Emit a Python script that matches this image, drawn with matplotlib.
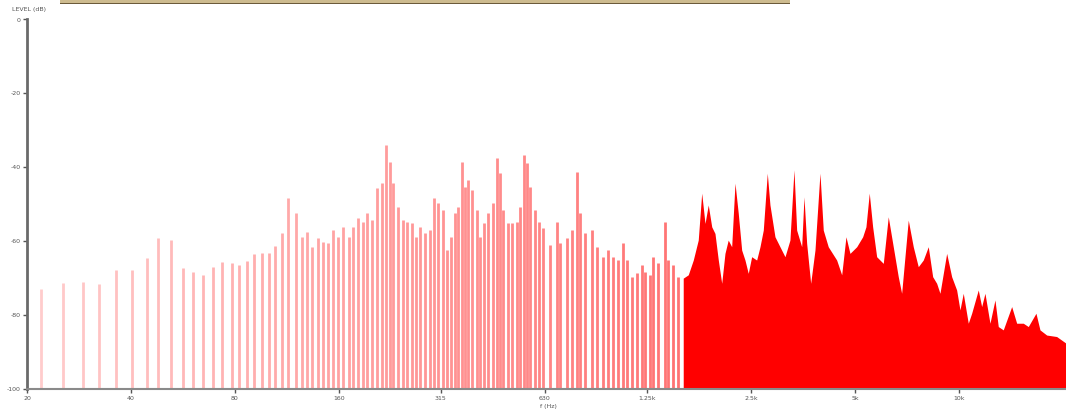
import numpy as np
import matplotlib
matplotlib.use("Agg")
import matplotlib.pyplot as plt
from matplotlib.patches import Rectangle

# ---- data ----
# individually visible spectral lines (Hz, dB)
bar_freq_hz = [22.0, 25.5, 29.0, 32.4, 36.3, 40.2, 44.4, 47.8, 52.2, 56.4,
               60.6, 64.8, 69.0, 73.5, 78.3, 82.2, 86.5, 90.8, 95.6, 100.5,
               104.4, 109.2, 114.1, 120.1, 124.8, 129.5, 133.9, 138.8, 144.1, 149.0,
               154.0, 159.3, 164.6, 171.0, 175.3, 181.2, 188.1, 193.2, 199.0, 205.7,
               212.7, 218.9, 224.8, 229.8, 237.6, 244.6, 251.2, 259.7, 267.3, 274.5,
               283.8, 293.4, 302.0, 310.1, 319.4, 328.0, 337.5, 346.7, 354.4, 362.5,
               370.5, 378.8, 387.4, 400.6, 409.5, 420.5, 432.8, 447.5, 459.6, 467.9,
               478.3, 492.5, 507.9, 523.0, 534.6, 550.2, 559.0, 571.5, 590.9, 606.8,
               624.4, 652.9, 682.8, 697.9, 729.8, 754.6, 780.2, 797.5, 824.5, 862.1,
               891.4, 931.4, 962.9, 995.6, 1029, 1064, 1089, 1126, 1164, 1203,
               1230, 1272, 1300, 1344, 1405, 1436, 1485, 1535]
bar_level_db = [-73.0, -71.4, -71.0, -71.6, -67.8, -67.8, -64.6, -59.2, -59.7, -67.3,
                -68.3, -69.1, -66.9, -65.5, -65.8, -66.4, -65.4, -63.5, -63.1, -63.1,
                -61.3, -57.7, -48.4, -52.4, -58.8, -57.4, -61.5, -59.2, -60.1, -60.6,
                -57.0, -58.8, -56.1, -58.8, -56.1, -53.8, -54.7, -52.4, -54.3, -45.7,
                -44.3, -34.0, -38.5, -44.3, -50.7, -54.3, -54.7, -55.2, -58.8, -56.1,
                -57.9, -57.0, -48.4, -49.7, -51.6, -62.4, -58.8, -52.4, -50.7, -38.5,
                -45.3, -43.4, -46.1, -51.6, -58.8, -55.2, -52.4, -49.7, -37.6, -41.6,
                -51.6, -55.2, -55.2, -54.7, -50.7, -36.7, -38.9, -45.3, -51.6, -54.7,
                -56.5, -61.0, -54.7, -60.6, -59.2, -57.0, -41.2, -52.4, -57.9, -57.0,
                -61.5, -64.2, -62.4, -64.2, -65.1, -60.6, -65.1, -69.6, -68.7, -66.4,
                -68.3, -69.1, -64.2, -66.0, -54.7, -65.1, -66.4, -69.6]

# dense upper band, drawn as a filled spectrum (Hz, dB)
dense_freq_hz = [1587, 1641, 1697, 1754, 1795, 1835, 1875, 1919, 1961, 2005,
                 2051, 2096, 2142, 2192, 2241, 2290, 2343, 2395, 2448, 2504,
                 2589, 2647, 2706, 2779, 2829, 2925, 3024, 3127, 3232, 3320,
                 3380, 3495, 3549, 3613, 3711, 3819, 3948, 4036, 4172, 4413,
                 4563, 4695, 4822, 5043, 5248, 5364, 5484, 5609, 5761, 6021,
                 6224, 6435, 6653, 6805, 7112, 7353, 7602, 7859, 8126, 8368,
                 8594, 8785, 9186, 9497, 9818, 10038, 10260, 10609, 10851, 11340,
                 11599, 11857, 12259, 12675, 12957, 13395, 14168, 14648, 15307, 15825,
                 16657, 17108, 17891, 19120, 20350]
dense_level_db = [-70.0, -69.1, -65.1, -59.7, -47.0, -55.2, -50.2, -56.1, -57.9, -65.1,
                  -71.4, -63.3, -59.7, -61.5, -44.3, -52.4, -62.4, -65.1, -68.7, -64.2,
                  -65.1, -61.5, -57.0, -41.6, -50.2, -58.8, -61.5, -64.2, -59.7, -40.7,
                  -57.0, -61.5, -48.0, -60.6, -71.4, -62.4, -41.6, -57.0, -61.5, -65.1,
                  -69.1, -58.8, -63.3, -61.5, -58.8, -56.1, -47.0, -56.1, -64.2, -66.0,
                  -53.4, -61.5, -69.6, -74.1, -54.3, -61.5, -66.9, -65.1, -61.5, -69.6,
                  -71.4, -74.1, -63.3, -69.6, -73.2, -78.6, -74.1, -82.2, -79.5, -73.2,
                  -77.7, -74.1, -82.2, -75.9, -83.1, -84.0, -77.7, -82.2, -82.2, -83.1,
                  -79.5, -84.0, -85.4, -85.8, -87.6]

x_ticks = [20, 40, 80, 160, 315, 630, 1250, 2500, 5000, 10000]
x_tick_labels = ["20", "40", "80", "160", "315", "630", "1.25k", "2.5k", "5k", "10k"]
y_ticks = [0, -20, -40, -60, -80, -100]
y_tick_labels = ["0", "-20", "-40", "-60", "-80", "-100"]

# ---- figure ----
W, H = 1066, 415
fig = plt.figure(figsize=(W / 100, H / 100), dpi=100)
fig.patch.set_facecolor("white")
ax = fig.add_axes([27 / W, 1 - 389 / H, (W - 27) / W, (389 - 19.5) / H])
ax.set_facecolor("white")
ax.set_xscale("log")
ax.set_xlim(20, 20350)
ax.set_ylim(-100, 0)

# bar colours: pale pink at low frequency, deeper salmon toward the dense band
bf = np.array(bar_freq_hz, dtype=float)
t = (np.log(bf) - np.log(bf.min())) / (np.log(bf.max()) - np.log(bf.min()))
light = np.array([1.0, 0.80, 0.80])
deep = np.array([1.0, 0.45, 0.45])
cols = [tuple(light + (deep - light) * tt) for tt in t]
ax.vlines(bar_freq_hz, -100, bar_level_db, colors=cols, linewidth=2.0)

ax.fill_between(dense_freq_hz, dense_level_db, -100, color="#ff0000", linewidth=0)

# axes styling
for s in ("top", "right"):
    ax.spines[s].set_visible(False)
ax.spines["left"].set_color("#6a6a6a")
ax.spines["left"].set_linewidth(2.0)
ax.spines["bottom"].set_color("#8a8a8a")
ax.spines["bottom"].set_linewidth(1.5)

ax.set_xticks(x_ticks)
ax.set_xticklabels(x_tick_labels)
ax.xaxis.set_minor_locator(matplotlib.ticker.NullLocator())
ax.set_yticks(y_ticks)
ax.set_yticklabels(y_tick_labels)
ax.tick_params(axis="both", labelsize=4.5, colors="#555555", length=3, width=1,
               pad=1.5)
ax.tick_params(axis="x", pad=2)

fig.text(548 / W, 1 - 406 / H, "f (Hz)", ha="center", va="center",
         fontsize=4.5, color="#555555")
fig.text(12 / W, 1 - 9 / H, "LEVEL (dB)", ha="left", va="center",
         fontsize=4.5, color="#555555")

# cropped toolbar strip at the top edge of the screenshot
fig.patches.append(Rectangle((60 / W, 1 - 3 / H), 730 / W, 3 / H,
                             transform=fig.transFigure, facecolor="#cdbb8f",
                             edgecolor="none"))
fig.patches.append(Rectangle((60 / W, 1 - 4 / H), 730 / W, 1 / H,
                             transform=fig.transFigure, facecolor="#6b5a3a",
                             edgecolor="none"))

fig.savefig("out.png", dpi=100, facecolor="white")
